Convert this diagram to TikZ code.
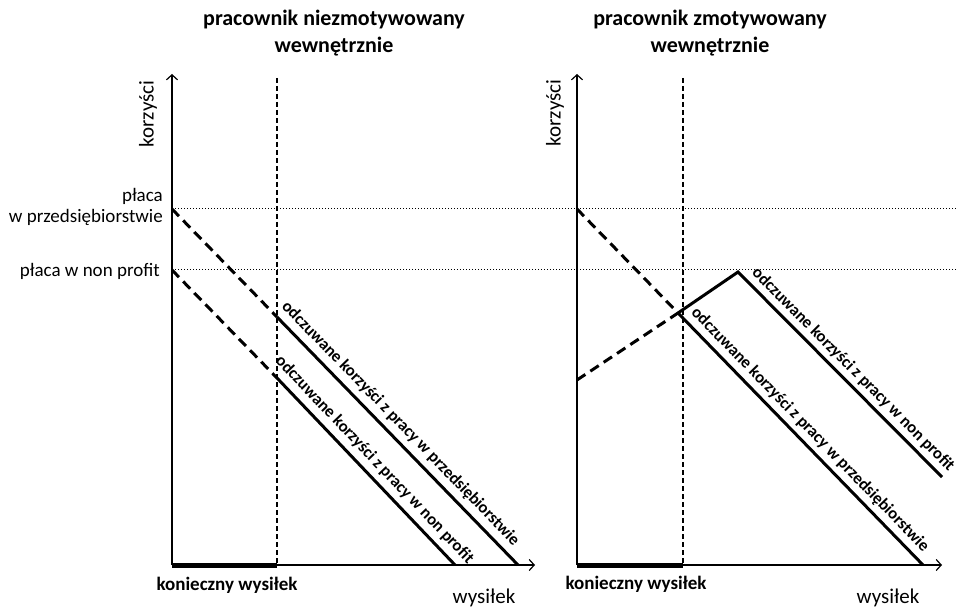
\documentclass[tikz,border=0pt]{standalone}
\usepackage{fontspec}
\setmainfont{Carlito}
\usetikzlibrary{arrows.meta}
\begin{document}
\begin{tikzpicture}[x=1pt,y=-1pt,
  axis/.style={line width=1.4pt,-{Straight Barb[length=5pt,width=11pt,line width=1.2pt]}},
  guide/.style={line width=1.1pt,dash pattern=on 5pt off 3pt},
  level/.style={line width=1pt,dash pattern=on 1pt off 2pt},
  effort/.style={line width=5pt},
  curvedash/.style={line width=3pt,dash pattern=on 10pt off 6pt},
  curve/.style={line width=3pt},
  title/.style={font=\bfseries\fontsize{22}{27}\selectfont,align=center},
  axlabel/.style={font=\fontsize{21}{25}\selectfont},
  levellabel/.style={font=\fontsize{19}{22}\selectfont,align=right,anchor=east,inner sep=0pt},
  effortlabel/.style={font=\bfseries\fontsize{19}{22}\selectfont},
  curvelabel/.style={font=\bfseries\fontsize{16.8}{20}\selectfont,sloped,inner sep=1pt},
]
\useasboundingbox (0,0) rectangle (958,612);

% ---------- shared levels ----------
\coordinate (P1L) at (172,209);
\coordinate (P1R) at (958,209);
\coordinate (P2L) at (172,270);
\coordinate (P2R) at (958,270);
\draw[level] (P1L) -- (P1R);
\draw[level] (P2L) -- (P2R);

\node[levellabel] (placa1) at (163,207) {płaca\\[-1pt]w przedsiębiorstwie};
\node[levellabel] (placa2) at (160,271) {płaca w non profit};

% ---------- left panel ----------
\node[title] (titleL) at (334,33) {pracownik niezmotywowany\\wewnętrznie};

\coordinate (LO) at (172,565);
\coordinate (LY) at (172,74);
\coordinate (LX) at (535,565);
\coordinate (LVt) at (277,78);
\coordinate (LVb) at (277,565);
\draw[guide] (LVt) -- (LVb);
\draw[effort] (LO) -- (LVb);
\draw[axis] (LO) -- (LY);
\draw[axis] (LO) -- (LX);

\node[axlabel,rotate=90] (korzL) at (148,114) {korzyści};
\node[axlabel] (wysL) at (484,598) {wysiłek};
\node[effortlabel] (konL) at (227,585) {konieczny wysiłek};

\coordinate (LA0) at (172,209);
\coordinate (LA1) at (277,317);
\coordinate (LA2) at (518,565);
\coordinate (LB0) at (172,270);
\coordinate (LB1) at (277,378);
\coordinate (LB2) at (455,565);
\draw[curvedash] (LA0) -- (LA1);
\draw[curve] (LA1) -- (LA2) node[curvelabel,pos=0.47,above=4.5pt] (labLA) {odczuwane korzyści z pracy w przedsiębiorstwie};
\draw[curvedash] (LB0) -- (LB1);
\draw[curve] (LB1) -- (LB2) node[curvelabel,pos=0.49,above=4.5pt] (labLB) {odczuwane korzyści z pracy w non profit};

% ---------- right panel ----------
\node[title] (titleR) at (710,33) {pracownik zmotywowany\\wewnętrznie};

\coordinate (RO) at (577,565);
\coordinate (RY) at (577,74);
\coordinate (RX) at (942,565);
\coordinate (RVt) at (683,78);
\coordinate (RVb) at (683,565);
\draw[guide] (RVt) -- (RVb);
\draw[effort] (RO) -- (RVb);
\draw[axis] (RO) -- (RY);
\draw[axis] (RO) -- (RX);

\node[axlabel,rotate=90] (korzR) at (555,113) {korzyści};
\node[axlabel] (wysR) at (888,598) {wysiłek};
\node[effortlabel] (konR) at (636,584) {konieczny wysiłek};

\coordinate (RA0) at (577,209);
\coordinate (RXc) at (678,313);
\coordinate (RA2) at (923,565);
\coordinate (RB0) at (577,380);
\coordinate (RPk) at (738,272);
\coordinate (RB3) at (942,477);
\draw[curvedash] (RA0) -- (RXc);
\draw[curvedash] (RB0) -- (RXc);
\draw[curve] (RXc) -- (RA2) node[curvelabel,pos=0.5,above=3.5pt] (labRA) {odczuwane korzyści z pracy w przedsiębiorstwie};
\draw[curve,line join=miter] (RXc) -- (RPk) -- (RB3) node[curvelabel,pos=0.52,above=3pt] (labRB) {odczuwane korzyści z pracy w non profit};
\end{tikzpicture}
\end{document}
